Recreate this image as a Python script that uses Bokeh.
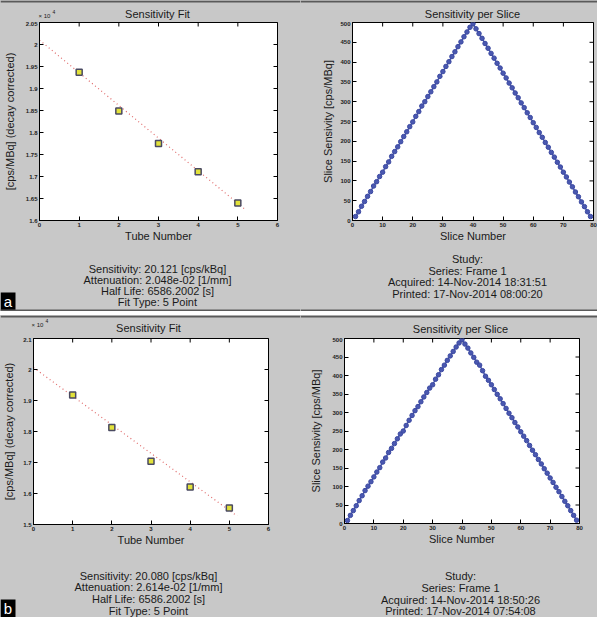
import math
from bokeh.plotting import figure
from bokeh.models import FixedTicker, Range1d, Span
from bokeh.layouts import column, row
from bokeh.embed import file_html
from bokeh.resources import INLINE
from bokeh.core.properties import value

# ---------------- data ----------------
tube_number = [1, 2, 3, 4, 5]
fit_sens_a = [1.937, 1.849, 1.775, 1.711, 1.640]   # x 10^4 cps/MBq
fit_sens_b = [1.918, 1.813, 1.704, 1.621, 1.553]
fit_line_x = [0.0, 5.2]
fit_line_a = [2.010, 1.624]
fit_line_b = [2.006, 1.527]

slice_number = list(range(1, 80))
slice_sens_a = [10, 22, 36, 48, 61, 73, 87, 98, 111, 122,
                136, 148, 162, 174, 186, 199, 212, 224, 237, 249,
                263, 275, 289, 300, 313, 325, 338, 350, 364, 376,
                389, 401, 414, 426, 439, 451, 464, 476, 488, 497,
                484, 472, 460, 447, 435, 422, 410, 397, 385, 372,
                360, 347, 335, 322, 310, 297, 285, 272, 260, 247,
                235, 222, 210, 197, 185, 172, 160, 147, 135, 122,
                110, 97, 85, 72, 60, 47, 35, 22, 10]
slice_sens_b = [8, 22, 35, 48, 62, 75, 89, 101, 113, 126,
                139, 151, 166, 177, 192, 203, 216, 229, 242, 250,
                265, 279, 292, 305, 316, 329, 342, 354, 366, 375,
                390, 402, 416, 428, 441, 453, 465, 477, 488, 497,
                485, 474, 461, 449, 436, 428, 413, 398, 387, 375,
                362, 349, 337, 324, 311, 298, 286, 273, 261, 248,
                236, 224, 211, 198, 186, 173, 161, 148, 136, 123,
                111, 98, 86, 73, 60, 48, 35, 22, 9]

fit_x_ticks = [0, 1, 2, 3, 4, 5, 6]
fit_y_ticks_a = [1.6, 1.65, 1.7, 1.75, 1.8, 1.85, 1.9, 1.95, 2.0, 2.05]
fit_y_labels_a = ["1.6", "1.65", "1.7", "1.75", "1.8", "1.85", "1.9", "1.95", "2", "2.05"]
fit_y_ticks_b = [1.5, 1.6, 1.7, 1.8, 1.9, 2.0, 2.1]
fit_y_labels_b = ["1.5", "1.6", "1.7", "1.8", "1.9", "2", "2.1"]
slice_x_ticks = [0, 10, 20, 30, 40, 50, 60, 70, 80]
slice_y_ticks = [0, 50, 100, 150, 200, 250, 300, 350, 400, 450, 500]

info_a_left = ["Sensitivity: 20.121 [cps/kBq]", "Attenuation: 2.048e-02 [1/mm]",
               "Half Life: 6586.2002 [s]", "Fit Type: 5 Point"]
info_a_right = ["Study:", "Series: Frame 1", "Acquired: 14-Nov-2014 18:31:51",
                "Printed: 17-Nov-2014 08:00:20"]
info_b_left = ["Sensitivity: 20.080 [cps/kBq]", "Attenuation: 2.614e-02 [1/mm]",
               "Half Life: 6586.2002 [s]", "Fit Type: 5 Point"]
info_b_right = ["Study:", "Series: Frame 1", "Acquired: 14-Nov-2014 18:50:26",
                "Printed: 17-Nov-2014 07:54:08"]

# ---------------- style ----------------
GRAY = "#c8c8c8"
EDGE = "#5a5a5a"
FONT = "Liberation Sans"
TXT = "#1a1a1a"


def strip(w, h, fill=GRAY):
    s = figure(width=w, height=h, x_range=Range1d(0, w), y_range=Range1d(h, 0),
               output_backend="svg", toolbar_location=None, title=None, frame_align=False,
               min_border_left=0, min_border_right=0, min_border_top=0, min_border_bottom=0,
               background_fill_color=fill, border_fill_color=fill, outline_line_color=None,
               x_axis_type=None, y_axis_type=None)
    s.grid.visible = False
    return s


def put(s, x, y, t, size="11px", align="center", color=TXT):
    s.text(x=[x], y=[y], text=[t], text_font=value(FONT), text_font_size=value(size),
           text_font_style="normal", text_align=align, text_baseline="middle",
           text_color=color)


def edge(s, y):
    s.add_layout(Span(location=y, dimension="width", line_color=EDGE, line_width=2))


def style_axis(ax, ticks, label, astand, overrides=None):
    ax.ticker = FixedTicker(ticks=ticks)
    ax.major_tick_in = 4
    ax.major_tick_out = 0
    ax.minor_tick_line_color = None
    ax.axis_line_color = "black"
    ax.major_tick_line_color = "black"
    ax.major_label_text_font = FONT
    ax.major_label_text_font_size = "6px"
    ax.major_label_text_font_style = "bold"
    ax.major_label_text_color = "#222222"
    ax.major_label_standoff = 2
    ax.axis_label = label
    ax.axis_label_text_font = FONT
    ax.axis_label_text_font_size = "11px"
    ax.axis_label_text_font_style = "normal"
    ax.axis_label_text_color = TXT
    ax.axis_label_standoff = astand
    if overrides:
        ax.major_label_overrides = overrides


def plot_fig(w, ml, mr, fh, xt, yt):
    p = figure(width=w, height=1 + fh + 24,
               x_range=Range1d(xt[0], xt[-1]), y_range=Range1d(yt[0], yt[-1]),
               output_backend="svg", toolbar_location=None, title=None, frame_align=False,
               min_border_left=ml, min_border_right=mr, min_border_top=1, min_border_bottom=24,
               background_fill_color="white", border_fill_color=GRAY,
               outline_line_color="black", outline_line_width=1)
    p.grid.visible = False
    # inward ticks on the top and right edges (MATLAB box style)
    p.scatter(x=xt, y=[yt[-1]] * len(xt), marker="dash", angle=math.pi / 2, size=8,
              line_color="black", line_width=1)
    p.scatter(x=[xt[-1]] * len(yt), y=yt, marker="dash", size=8,
              line_color="black", line_width=1)
    return p


def fit_panel(w, ml, mr, top_h, fh, bot_h, yticks, ylabels, sens, fit_y, astand,
              title_xy, x10_xy, info_x, info_ys, tag, tag_box, top_edge, bottom_edge):
    top = strip(w, top_h)
    put(top, title_xy[0], title_xy[1], "Sensitivity Fit")
    put(top, x10_xy[0], x10_xy[1], "\u00d7 10", size="6px", align="left")
    put(top, x10_xy[0] + 14, x10_xy[1] - 4, "4", size="5px", align="left")
    if top_edge:
        edge(top, 1)

    p = plot_fig(w, ml, mr, fh, fit_x_ticks, yticks)
    style_axis(p.xaxis[0], fit_x_ticks, "Tube Number", 0)
    style_axis(p.yaxis[0], yticks, "[cps/MBq] (decay corrected)", astand,
               dict(zip(yticks, ylabels)))
    p.line(fit_line_x, fit_y, line_color="#e06a6a", line_dash="1 3", line_width=1.2)
    p.scatter(tube_number, sens, marker="square", size=6, fill_color="#e2e23a",
              line_color="#4a4a62", line_width=1.5)

    bot = strip(w, bot_h)
    for t, y in zip(info_x[1], info_ys):
        put(bot, info_x[0], y, t)
    l, r, t0, b0 = tag_box
    bot.quad(left=[l], right=[r], top=[t0], bottom=[b0], fill_color="black", line_color=None)
    put(bot, (l + r) / 2, (t0 + b0) / 2, tag, size="15px", color="white")
    if bottom_edge:
        edge(bot, bot_h - 1)
    return column(top, p, bot, styles={"background-color": GRAY})


def slice_panel(w, ml, mr, top_h, fh, bot_h, vals, astand, title_xy, info_x, info_ys,
                top_edge, bottom_edge):
    top = strip(w, top_h)
    put(top, title_xy[0], title_xy[1], "Sensitivity per Slice")
    if top_edge:
        edge(top, 1)

    p = plot_fig(w, ml, mr, fh, slice_x_ticks, slice_y_ticks)
    style_axis(p.xaxis[0], slice_x_ticks, "Slice Number", 0)
    style_axis(p.yaxis[0], slice_y_ticks, "Slice Sensivity [cps/MBq]", astand)
    p.line(slice_number, vals, line_color="#4a58b0", line_width=1.5)
    p.scatter(slice_number, vals, marker="circle", size=4.5, fill_color="#4a58b0",
              line_color="#3c4aa2", line_width=1)

    bot = strip(w, bot_h)
    for t, y in zip(info_x[1], info_ys):
        put(bot, info_x[0], y, t)
    if bottom_edge:
        edge(bot, bot_h - 1)
    # overlap the left panel by 2 px to hide its edge seam
    return column(top, p, bot, styles={"background-color": GRAY, "margin-left": "-2px"})


pa1 = fit_panel(302, 39, 25, 21, 198, 67, fit_y_ticks_a, fit_y_labels_a, fit_sens_a,
                fit_line_a, 7, (157, 13), (38, 15), (157, info_a_left), [24, 35, 46, 57],
                "a", (0, 15, 48, 66), True, True)
pa2 = slice_panel(297, 52, 4, 21, 198, 67, slice_sens_a, 3, (172, 13),
                  (167, info_a_right), [14, 26, 37, 49], True, True)
pb1 = fit_panel(302, 31, 34, 22, 186, 69, fit_y_ticks_b, fit_y_labels_b, fit_sens_b,
                fit_line_b, 5, (148, 12), (31, 9), (148, info_b_left), [27, 38, 50, 62],
                "b", (0, 15, 51, 69), True, False)
pb2 = slice_panel(297, 44, 18, 22, 185, 70, slice_sens_b, 7, (160, 13),
                  (160, info_b_right), [28, 40, 52, 63], True, False)

separator = strip(597, 4, fill="white")

layout = column(row(pa1, pa2, styles={"background-color": GRAY}),
                separator,
                row(pb1, pb2, styles={"background-color": GRAY}))

open("out.html", "w").write(file_html(layout, INLINE))
